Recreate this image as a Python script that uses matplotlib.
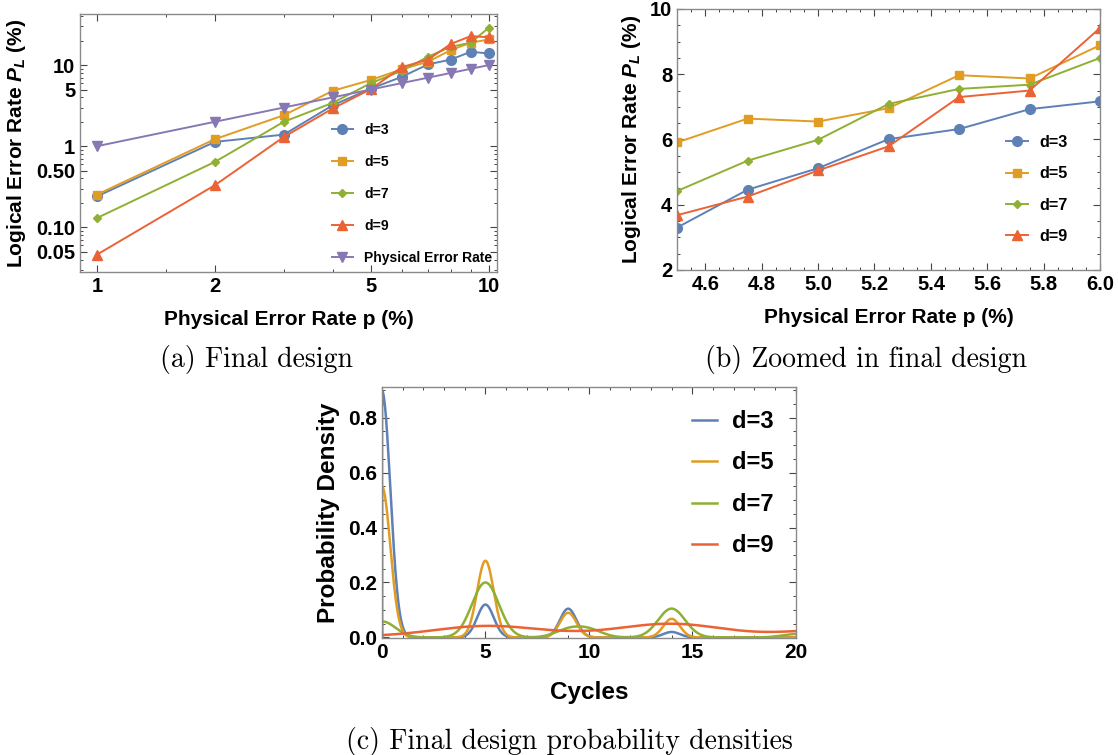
import numpy as np
import matplotlib
matplotlib.use("Agg")
import matplotlib.pyplot as plt
from matplotlib.ticker import FixedLocator, MultipleLocator, NullFormatter

plt.rcParams['font.family'] = ['Liberation Sans', 'DejaVu Sans']
plt.rcParams['font.weight'] = 'bold'
plt.rcParams['mathtext.fontset'] = 'custom'
plt.rcParams['mathtext.rm'] = 'Liberation Sans:bold'
plt.rcParams['mathtext.it'] = 'Liberation Sans:bold:italic'

# colours (Mathematica 97 palette)
C3, C5, C7, C9, CP = '#5E81B5', '#E19C24', '#8FB032', '#EB6235', '#8778B3'

# (a) final design, log-log
p_a = [1, 2, 3, 4, 5, 6, 7, 8, 9, 10]
d3_a = [0.24, 1.13, 1.39, 3.2, 5.12, 7.17, 10.2, 11.7, 14.6, 13.9]
d5_a = [0.253, 1.22, 2.41, 4.82, 6.55, 8.89, 11.0, 15.3, 18.9, 20.7]
d7_a = [0.13, 0.64, 2.0, 3.43, 5.99, 8.5, 12.7, 16.8, 18.9, 28.9]
d9_a = [0.046, 0.33, 1.30, 2.92, 5.05, 9.42, 11.7, 18.2, 22.8, 22.0]
phys_a = [1, 2, 3, 4, 5, 6, 7, 8, 9, 10]

# (b) zoomed in
p_b = [4.5, 4.75, 5.0, 5.25, 5.5, 5.75, 6.0]
d3_b = [3.30, 4.46, 5.12, 6.01, 6.32, 6.93, 7.17]
d5_b = [5.91, 6.64, 6.55, 6.96, 7.97, 7.87, 8.89]
d7_b = [4.42, 5.35, 5.99, 7.09, 7.55, 7.68, 8.50]
d9_b = [3.68, 4.25, 5.05, 5.79, 7.30, 7.50, 9.42]

# (c) cycle distributions (cycle values, weights, kernel bandwidth)
cyc3 = [0, 5, 9, 14]
w3 = [0.90, 0.12, 0.105, 0.02]
bw3 = 0.4
cyc5 = [0, 5, 9, 14]
w5 = [0.55, 0.28, 0.09, 0.068]
bw5 = 0.4
cyc7 = [0, 5, 9, 10, 14, 20]
w7 = [0.095, 0.326, 0.044, 0.044, 0.171, 0.02]
bw7 = 0.65
cyc9 = [0, 5, 9, 14, 22]
w9 = [0.019, 0.25, 0.038, 0.307, 0.175]
bw9 = 2.5


def density(x, centers, weights, bw):
    y = np.zeros_like(x)
    for c, w in zip(centers, weights):
        y += w * np.exp(-0.5 * ((x - c) / bw) ** 2) / (bw * np.sqrt(2 * np.pi))
    return y


def frame(ax, fs=14.5):
    for s in ax.spines.values():
        s.set_color('#8a8a8a')
        s.set_linewidth(1.0)
    ax.tick_params(which='both', direction='in', top=True, right=True,
                   color='#444444', labelsize=fs)
    ax.tick_params(which='major', length=5, width=0.8)
    ax.tick_params(which='minor', length=2.5, width=0.7)
    for lab in ax.get_xticklabels() + ax.get_yticklabels():
        lab.set_fontweight('bold')


fig = plt.figure(figsize=(11.18, 7.55), dpi=100)

# ---- (a)
ax1 = fig.add_axes([0.0716, 0.6397, 0.373, 0.3417])
ax1.set_xscale('log')
ax1.set_yscale('log')
ax1.plot(p_a, d3_a, '-o', color=C3, lw=1.4, ms=7, label='d=3')
ax1.plot(p_a, d5_a, '-s', color=C5, lw=1.4, ms=6, label='d=5')
ax1.plot(p_a, d7_a, '-D', color=C7, lw=1.4, ms=4.5, label='d=7')
ax1.plot(p_a, d9_a, '-^', color=C9, lw=1.4, ms=6.5, label='d=9')
ax1.plot(p_a, phys_a, '-v', color=CP, lw=1.4, ms=6.5, label='Physical Error Rate')
ax1.set_xlim(0.906, 10.5)
ax1.set_ylim(0.0281, 42.6)
ax1.set_xticks([1, 2, 5, 10], ['1', '2', '5', '10'])
ax1.xaxis.set_minor_locator(FixedLocator([1.5, 3, 4, 6, 7, 8, 9]))
ax1.xaxis.set_minor_formatter(NullFormatter())
ax1.set_yticks([0.05, 0.1, 0.5, 1, 5, 10], ['0.05', '0.10', '0.50', '1', '5', '10'])
ax1.yaxis.set_minor_locator(FixedLocator([0.03, 0.04, 0.06, 0.07, 0.08, 0.09,
                                          0.2, 0.3, 0.4, 0.6, 0.7, 0.8, 0.9,
                                          2, 3, 4, 6, 7, 8, 9, 20, 30, 40]))
ax1.yaxis.set_minor_formatter(NullFormatter())
frame(ax1)
ax1.set_xlabel('Physical Error Rate p (%)', fontsize=15, fontweight='bold', labelpad=10)
ax1.set_ylabel(r'Logical Error Rate $P_L$ (%)', fontsize=15, fontweight='bold', labelpad=6)
ax1.legend(loc='upper left', bbox_to_anchor=(0.297, 0.837), bbox_transform=fig.transFigure,
           frameon=False, prop={'size': 10, 'weight': 'bold'}, borderpad=0,
           handlelength=1.5, handletextpad=0.8, labelspacing=1.3, borderaxespad=0)

# ---- (b)
ax2 = fig.add_axes([0.6056, 0.6424, 0.3784, 0.3457])
ax2.plot(p_b, d3_b, '-o', color=C3, lw=1.4, ms=7, label='d=3')
ax2.plot(p_b, d5_b, '-s', color=C5, lw=1.4, ms=6, label='d=5')
ax2.plot(p_b, d7_b, '-D', color=C7, lw=1.4, ms=4.5, label='d=7')
ax2.plot(p_b, d9_b, '-^', color=C9, lw=1.4, ms=6.5, label='d=9')
ax2.set_xlim(4.5, 6.0)
ax2.set_ylim(2, 10)
ax2.set_xticks([4.6, 4.8, 5.0, 5.2, 5.4, 5.6, 5.8, 6.0])
ax2.xaxis.set_minor_locator(MultipleLocator(0.05))
ax2.set_yticks([2, 4, 6, 8, 10])
ax2.yaxis.set_minor_locator(MultipleLocator(0.5))
ax2.xaxis.set_major_formatter(matplotlib.ticker.FormatStrFormatter('%.1f'))
frame(ax2)
ax2.set_xlabel('Physical Error Rate p (%)', fontsize=15, fontweight='bold', labelpad=10)
ax2.set_ylabel(r'Logical Error Rate $P_L$ (%)', fontsize=15, fontweight='bold', labelpad=5)
ax2.legend(loc='upper left', bbox_to_anchor=(0.9, 0.821), bbox_transform=fig.transFigure,
           frameon=False, prop={'size': 11.7, 'weight': 'bold'}, borderpad=0,
           handlelength=1.36, handletextpad=0.68, labelspacing=1.0, borderaxespad=0)

# ---- (c)
ax3 = fig.add_axes([0.3417, 0.155, 0.370, 0.3325])
xs = np.concatenate([[0.0], np.linspace(0, 20, 801)])
for cyc, w, bw, col, lab in [(cyc3, w3, bw3, C3, 'd=3'), (cyc5, w5, bw5, C5, 'd=5'),
                             (cyc7, w7, bw7, C7, 'd=7'), (cyc9, w9, bw9, C9, 'd=9')]:
    ys = density(xs, cyc, w, bw)
    ys[0] = 0.0
    ax3.plot(xs, ys, color=col, lw=1.8, label=lab)
ax3.set_xlim(0, 20)
ax3.set_ylim(-0.002, 0.912)
ax3.set_xticks([0, 5, 10, 15, 20])
ax3.xaxis.set_minor_locator(MultipleLocator(1))
ax3.set_yticks([0.0, 0.2, 0.4, 0.6, 0.8])
ax3.yaxis.set_minor_locator(MultipleLocator(0.05))
ax3.yaxis.set_major_formatter(matplotlib.ticker.FormatStrFormatter('%.1f'))
frame(ax3, fs=15)
ax3.set_xlabel('Cycles', fontsize=17.5, fontweight='bold', labelpad=14)
ax3.set_ylabel('Probability Density', fontsize=17.5, fontweight='bold', labelpad=6)
ax3.legend(loc='upper left', bbox_to_anchor=(0.619, 0.457), bbox_transform=fig.transFigure,
           frameon=False, prop={'size': 17, 'weight': 'bold'}, borderpad=0,
           handlelength=1.06, handletextpad=0.64, labelspacing=0.78, borderaxespad=0)

# captions
cap = dict(family='cmr10', fontsize=20, ha='center', va='center')
fig.text(256 / 1118, 1 - 360 / 755, '(a) Final design', **cap)
fig.text(866 / 1118, 1 - 360 / 755, '(b) Zoomed in final design', **cap)
fig.text(569 / 1118, 1 - 741 / 755, '(c) Final design probability densities', **cap)

fig.savefig('out.png', dpi=100)
